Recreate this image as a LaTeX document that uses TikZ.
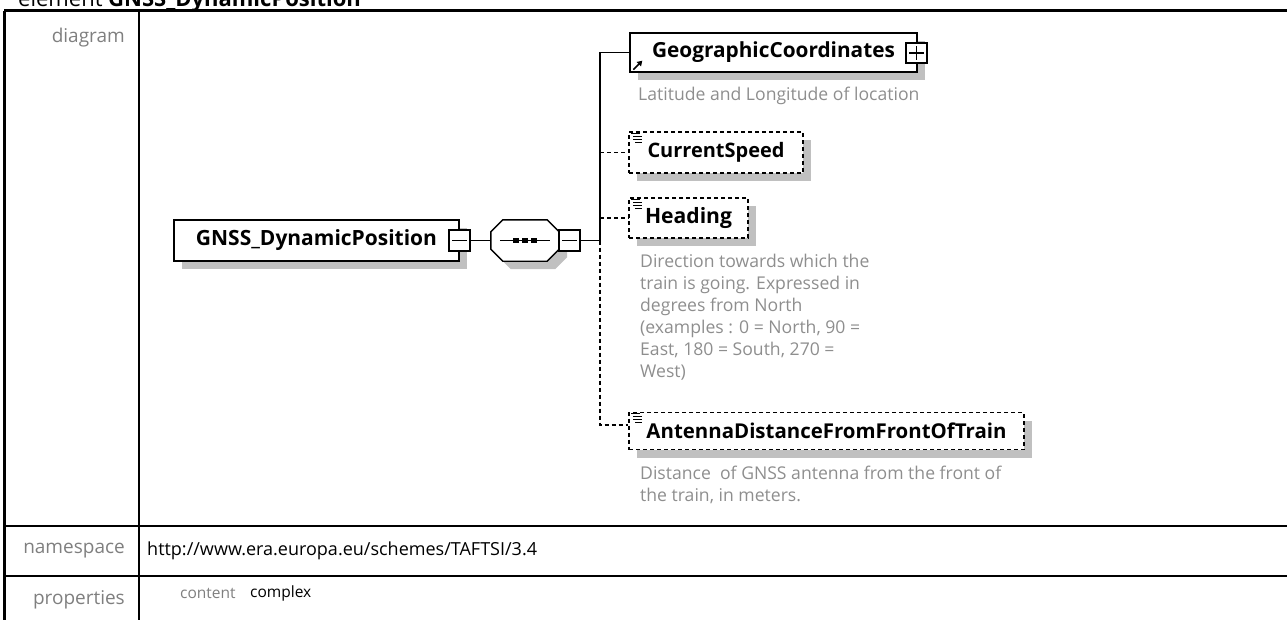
\documentclass[tikz,border=0pt]{standalone}
\usepackage{fontspec}
\setmainfont{Open Sans}
\usetikzlibrary{arrows.meta,shadows}
\definecolor{lbl}{HTML}{7F7F7F}
\definecolor{dsc}{HTML}{8E8E8E}
\definecolor{shd}{HTML}{C0C0C0}
\newcommand\fw[2]{\resizebox{#1pt}{!}{#2}}
\begin{document}
\begin{tikzpicture}[x=1pt,y=-1pt,
  grid/.style={line width=2.2pt,draw=black},
  shad/.style={drop shadow={shadow xshift=8pt,shadow yshift=-8pt,fill=shd,opacity=1}},
  elem/.style={draw=black,line width=1.4pt,fill=white,inner sep=0,shad},
  optel/.style={elem,dash pattern=on 4pt off 3pt},
  pmbox/.style={draw=black,line width=1.4pt,fill=white,inner sep=0,minimum width=21pt,minimum height=21pt},
  conn/.style={line width=1.4pt,draw=black},
  dconn/.style={conn,dash pattern=on 4pt off 3pt},
  lab/.style={inner sep=0,text=lbl,font=\fontsize{19}{22}\selectfont},
  desc/.style={inner sep=0,text=dsc,align=left,font=\fontsize{17.6}{22}\selectfont},
  ename/.style={inner sep=0,font=\bfseries}
]
\useasboundingbox (0,0) rectangle (1287,619);
% title (clipped at top, as in the reference)
\node[anchor=base west,inner sep=0,font=\fontsize{22}{26}\selectfont] (title) at (18,6) {element \textbf{GNSS\_DynamicPosition}};
% table
\draw[grid] (4,10.5) -- (1290,10.5);
\draw[grid] (4.5,10.5) -- (4.5,625);
\draw[grid] (139,10.5) -- (139,625);
\draw[grid] (4,526) -- (1290,526);
\draw[grid] (4,576) -- (1290,576);
\node[lab,anchor=east] (ldiag) at (125,38) {diagram};
\node[lab,anchor=east] (lns) at (125,551) {namespace};
\node[lab,anchor=east] (lprop) at (125,600) {properties};
\node[inner sep=0,anchor=west,font=\fontsize{18}{20}\selectfont] (url) at (147,551) {http://www.era.europa.eu/schemes/TAFTSI/3.4};
\node[inner sep=0,anchor=west,text=lbl,font=\fontsize{15.5}{18}\selectfont] (pcont) at (180,593) {content};
\node[inner sep=0,anchor=west,font=\fontsize{15.5}{18}\selectfont] (pcomp) at (250,593) {complex};

% root element
\node[elem,minimum width=285pt,minimum height=41pt] (root) at (316.5,240.5) {\fw{241}{\bfseries GNSS\_DynamicPosition}};
\node[pmbox] (rootm) at (459.5,240.5) {};
\draw[conn] ([xshift=4pt]rootm.west) -- ([xshift=-4pt]rootm.east);

% sequence compositor
\node[inner sep=0,minimum width=68pt,minimum height=41pt] (seq) at (525,240.5) {};
\draw[conn,fill=white,shad] ([xshift=12pt]seq.north west) -- ([xshift=-12pt]seq.north east) -- ([yshift=-12pt]seq.north east) -- ([yshift=12pt]seq.south east) -- ([xshift=-12pt]seq.south east) -- ([xshift=12pt]seq.south west) -- ([yshift=12pt]seq.south west) -- ([yshift=-12pt]seq.north west) -- cycle;
\draw[conn] ([xshift=9pt]seq.west) -- ([xshift=-9pt]seq.east);
\foreach \dx in {-9,0,9} \fill ([xshift=\dx pt]seq.center) +(-2.8,-2.8) rectangle +(2.8,2.8);
\node[pmbox] (seqm) at (569.5,240.5) {};
\draw[conn] ([xshift=4pt]seqm.west) -- ([xshift=-4pt]seqm.east);

\draw[conn] (rootm.east) -- (seq.west);
\coordinate (bus) at (600,240.5);
\coordinate (busend) at (600,425);
\draw[conn] (seqm.east) -- (bus);

% children
\node[elem,minimum width=287pt,minimum height=39pt] (geo) at (773.5,52.5) {\fw{243}{\bfseries GeographicCoordinates}};
\node[pmbox,minimum height=20pt] (geop) at (916.5,53) {};
\draw[conn] ([xshift=4pt]geop.west) -- ([xshift=-4pt]geop.east);
\draw[conn] ([yshift=-4pt]geop.north) -- ([yshift=4pt]geop.south);
\draw[line width=1.5pt,-{Triangle[length=5pt,width=6pt]}] ([xshift=4pt,yshift=3pt]geo.south west) -- ++(9,-9);
\node[desc,anchor=west] (geod) at (638,96) {Latitude and Longitude of location};

\node[optel,minimum width=174pt,minimum height=41pt] (cs) at (716,152.5) {\fw{137}{\bfseries CurrentSpeed}};
\node[optel,minimum width=119pt,minimum height=40pt] (hd) at (688.5,218) {\fw{87}{\bfseries Heading}};
\node[desc,anchor=north west] (hdd) at (640,254) {Direction towards which the\\train is going. Expressed in\\degrees from North\\(examples : 0 = North, 90 =\\East, 180 = South, 270 =\\West)};
\node[optel,minimum width=395pt,minimum height=37pt] (ant) at (826.5,431) {\fw{360}{\bfseries AntennaDistanceFromFrontOfTrain}};
\node[desc,anchor=north west] (antd) at (640,466) {Distance\ \ of GNSS antenna from the front of\\the train, in meters.};

% text icons
\foreach \n in {cs,hd,ant}{
  \draw[line width=1pt] ([xshift=3pt,yshift=-2pt]\n.north west) -- ++(9,0);
  \draw[line width=1pt] ([xshift=5pt,yshift=-5pt]\n.north west) -- ++(9,0);
  \draw[line width=1pt] ([xshift=5pt,yshift=-8pt]\n.north west) -- ++(9,0);
  \draw[line width=1pt] ([xshift=7pt,yshift=-11pt]\n.north west) -- ++(7,0);
}

% connectors
\draw[conn] (bus) |- (geo.west);
\draw[dconn] (bus) -- (busend) -- (ant.west |- busend);
\draw[dconn] (bus |- cs.west) -- (cs.west);
\draw[dconn] (bus |- hd.west) -- (hd.west);
\end{tikzpicture}
\end{document}
